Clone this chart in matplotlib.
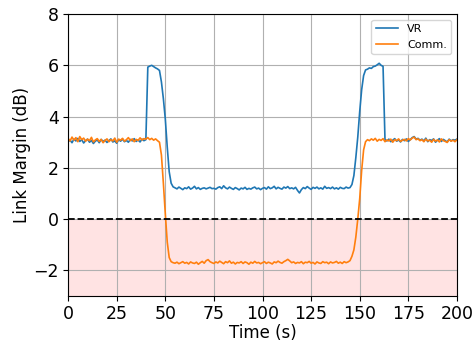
import matplotlib.pyplot as plt
import numpy as np

# time axis in seconds, one sample per second
t = np.arange(0, 201)

vr = [3.02, 3.08, 2.98, 3.12, 3.05, 3.15, 3.03, 3.10, 2.97, 3.06,
      3.12, 3.00, 3.07, 2.95, 3.04, 3.09, 2.98, 3.11, 3.03, 3.08,
      2.99, 3.06, 3.13, 3.01, 3.05, 2.96, 3.10, 3.04, 3.12, 3.02,
      3.07, 3.00, 3.11, 3.05, 3.14, 3.03, 3.09, 3.01, 3.12, 3.06,
      3.10, 5.93, 5.97, 6.00, 5.95, 5.90, 5.86, 5.80, 5.35, 4.70,
      3.90, 2.80, 1.85, 1.40, 1.26, 1.22, 1.18, 1.25, 1.20, 1.15,
      1.22, 1.19, 1.26, 1.17, 1.21, 1.28, 1.18, 1.23, 1.16, 1.20,
      1.22, 1.18, 1.21, 1.24, 1.19, 1.20, 1.17, 1.23, 1.26, 1.19,
      1.30, 1.22, 1.18, 1.25, 1.20, 1.16, 1.23, 1.19, 1.14, 1.21,
      1.18, 1.24, 1.16, 1.20, 1.17, 1.22, 1.25, 1.18, 1.21, 1.15,
      1.20, 1.23, 1.17, 1.26, 1.19, 1.22, 1.28, 1.18, 1.24, 1.20,
      1.17, 1.25, 1.21, 1.27, 1.19, 1.22, 1.18, 1.24, 1.12, 1.02,
      1.15, 1.23, 1.19, 1.27, 1.21, 1.16, 1.24, 1.20, 1.25, 1.18,
      1.22, 1.17, 1.28, 1.20, 1.23, 1.19, 1.25, 1.18, 1.22, 1.17,
      1.24, 1.20, 1.19, 1.25, 1.21, 1.23, 1.35, 1.70, 2.40, 3.20,
      4.20, 5.05, 5.60, 5.82, 5.85, 5.90, 5.88, 5.95, 5.97, 6.02,
      6.08, 6.00, 5.96, 3.10, 3.05, 3.12, 3.02, 3.08, 3.14, 3.04,
      3.09, 3.01, 3.11, 3.06, 3.13, 3.03, 3.10, 3.18, 3.22, 3.12,
      3.15, 3.08, 3.12, 3.05, 3.16, 3.02, 3.10, 3.07, 3.13, 3.00,
      3.08, 3.14, 3.03, 3.11, 3.06, 3.01, 3.12, 3.05, 3.10, 3.08,
      3.12]

comm = [3.15, 3.05, 3.20, 3.08, 3.18, 3.02, 3.22, 3.10, 3.16, 3.04,
        3.12, 3.06, 3.19, 3.01, 3.09, 3.14, 3.03, 3.11, 2.98, 3.07,
        3.13, 3.02, 3.10, 3.05, 3.16, 3.00, 3.12, 3.08, 3.15, 3.04,
        3.10, 3.18, 3.06, 3.13, 3.02, 3.11, 3.07, 3.17, 3.09, 3.14,
        3.12, 3.18, 3.10, 3.15, 3.08, 3.13, 3.06, 3.00, 2.50, 1.40,
        0.20, -0.90, -1.50, -1.66, -1.70, -1.72, -1.68, -1.74, -1.70, -1.66,
        -1.72, -1.69, -1.75, -1.67, -1.71, -1.73, -1.68, -1.76, -1.70, -1.65,
        -1.72, -1.62, -1.58, -1.66, -1.70, -1.73, -1.67, -1.71, -1.64, -1.69,
        -1.74, -1.66, -1.70, -1.63, -1.72, -1.68, -1.75, -1.69, -1.71, -1.66,
        -1.73, -1.67, -1.70, -1.76, -1.68, -1.72, -1.65, -1.71, -1.69, -1.74,
        -1.70, -1.66, -1.73, -1.68, -1.71, -1.75, -1.67, -1.70, -1.64, -1.69,
        -1.72, -1.66, -1.62, -1.57, -1.63, -1.70, -1.67, -1.73, -1.69, -1.71,
        -1.66, -1.74, -1.68, -1.70, -1.65, -1.72, -1.69, -1.75, -1.67, -1.71,
        -1.73, -1.66, -1.70, -1.68, -1.74, -1.67, -1.71, -1.69, -1.65, -1.72,
        -1.68, -1.73, -1.66, -1.70, -1.67, -1.62, -1.45, -1.20, -0.70, 0.00,
        0.80, 1.90, 2.70, 3.02, 3.10, 3.06, 3.13, 3.08, 3.15, 3.04,
        3.11, 3.07, 3.14, 3.02, 3.09, 3.05, 3.12, 3.00, 3.10, 3.06,
        3.13, 3.03, 3.08, 3.11, 3.05, 3.14, 3.09, 3.16, 3.20, 3.10,
        3.13, 3.06, 3.10, 3.02, 3.12, 3.05, 3.08, 3.00, 3.11, 3.04,
        3.09, 3.01, 3.13, 3.06, 3.03, 2.99, 3.10, 3.04, 3.08, 3.02,
        3.10]

fig = plt.figure(figsize=(4.73, 3.43), dpi=100)
ax = fig.add_axes([0.144, 0.137, 0.822, 0.822])

ax.axhspan(-3, 0, color='red', alpha=0.11, lw=0)
ax.plot(t, vr, color='tab:blue', lw=1.2, label='VR')
ax.plot(t, comm, color='tab:orange', lw=1.2, label='Comm.')
ax.axhline(0, color='black', ls='--', lw=1.3)

ax.set_xlim(0, 200)
ax.set_ylim(-3, 8)
ax.set_xticks(np.arange(0, 201, 25))
ax.set_yticks(np.arange(-2, 9, 2))
ax.tick_params(labelsize=12.5, pad=3)
ax.set_xlabel('Time (s)', fontsize=12, labelpad=1)
ax.set_ylabel('Link Margin (dB)', fontsize=12, labelpad=2)
ax.grid(True)
ax.legend(loc='upper right', fontsize=8)

fig.savefig('out.png', dpi=100)
